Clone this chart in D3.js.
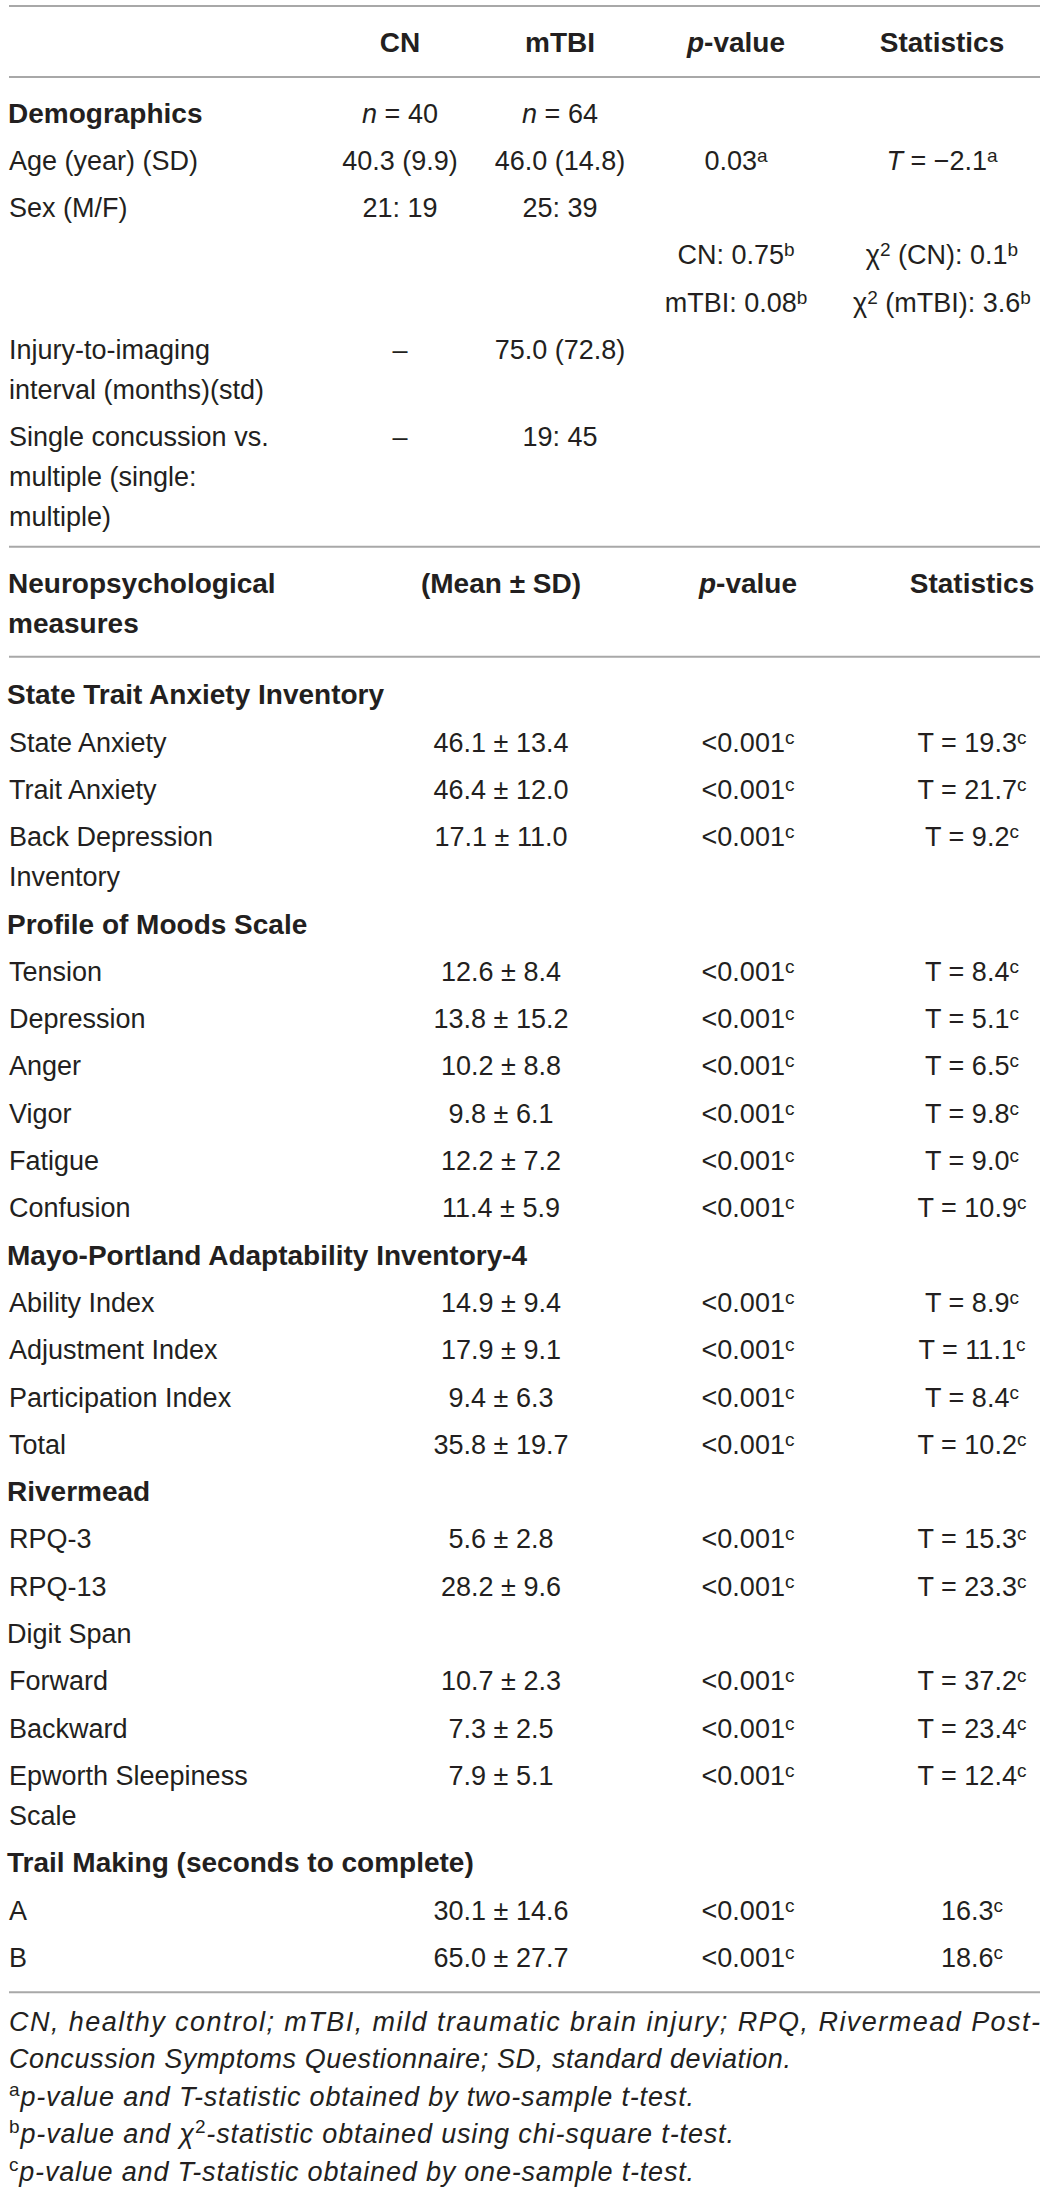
<!DOCTYPE html>
<html>
<head>
<meta charset="utf-8">
<script src="https://cdn.jsdelivr.net/npm/d3@7"></script>
<style>
  body { margin: 0; background: #fff; }
  svg { display: block; }
</style>
</head>
<body>
<div class="tbl"></div>
<script>
// ---- data ----
let headCols = ["CN", "mTBI", "<i>p</i>-value", "Statistics"]
let demoLabels = ["Age (year) (SD)", "Sex (M/F)", "", "", "Injury-to-imaging|interval (months)(std)", "Single concussion vs.|multiple (single:|multiple)"]
let demoCN = ["40.3 (9.9)", "21: 19", "", "", "–", "–"]
let demoMTBI = ["46.0 (14.8)", "25: 39", "", "", "75.0 (72.8)", "19: 45"]
let demoP = ["0.03^a", "", "CN: 0.75^b", "mTBI: 0.08^b", "", ""]
let demoStat = ["<i>T</i> = −2.1^a", "", "χ^2 (CN): 0.1^b", "χ^2 (mTBI): 3.6^b", "", ""]
let demoN = ["<i>n</i> = 40", "<i>n</i> = 64"]

let neuroCols = ["(Mean ± SD)", "<i>p</i>-value", "Statistics"]
let sections = ["State Trait Anxiety Inventory", "Profile of Moods Scale", "Mayo-Portland Adaptability Inventory-4", "Rivermead", "Digit Span", "Trail Making (seconds to complete)"]
let sectionBold = [true, true, true, true, false, true]
let measureSection = [0, 0, 0, 1, 1, 1, 1, 1, 1, 2, 2, 2, 2, 3, 3, 4, 4, 4, 5, 5]
let measureLabels = ["State Anxiety", "Trait Anxiety", "Back Depression|Inventory", "Tension", "Depression", "Anger", "Vigor", "Fatigue", "Confusion",
  "Ability Index", "Adjustment Index", "Participation Index", "Total", "RPQ-3", "RPQ-13", "Forward", "Backward", "Epworth Sleepiness|Scale", "A", "B"]
let measureMean = [46.1, 46.4, 17.1, 12.6, 13.8, 10.2, 9.8, 12.2, 11.4, 14.9, 17.9, 9.4, 35.8, 5.6, 28.2, 10.7, 7.3, 7.9, 30.1, 65.0]
let measureSD = [13.4, 12.0, 11.0, 8.4, 15.2, 8.8, 6.1, 7.2, 5.9, 9.4, 9.1, 6.3, 19.7, 2.8, 9.6, 2.3, 2.5, 5.1, 14.6, 27.7]
let measureT = [19.3, 21.7, 9.2, 8.4, 5.1, 6.5, 9.8, 9.0, 10.9, 8.9, 11.1, 8.4, 10.2, 15.3, 23.3, 37.2, 23.4, 12.4, 16.3, 18.6]
let measureHasT = [1, 1, 1, 1, 1, 1, 1, 1, 1, 1, 1, 1, 1, 1, 1, 1, 1, 1, 0, 0]
let measureP = "<0.001^c"

let footnotes = [
  "CN, healthy control; mTBI, mild traumatic brain injury; RPQ, Rivermead Post-",
  "Concussion Symptoms Questionnaire; SD, standard deviation.",
  "^a<i>p-value and T-statistic obtained by two-sample t-test.</i>",
  "^b<i>p-value and χ</i>^2<i>-statistic obtained using chi-square t-test.</i>",
  "^c<i>p-value and T-statistic obtained by one-sample t-test.</i>"
]

// ---- layout ----
let width = 1043, height = 2187
let left = 9, right = 1040
let fs = 27, fsBold = 28, fsFoot = 27, fsSup = 19
let pitch = 47.3, wrap = 40
let ink = "#231f20", rule = "#a8a8a8"
// run length of each footnote line, as set in the page
let footLen = [right - left, 782, 685, 725, 685]

let topX = d3.scaleOrdinal().domain(d3.range(4)).range([400, 560, 736, 942])
let botX = d3.scaleOrdinal().domain(d3.range(3)).range([501, 748, 972])
let fmt = d3.format(".1f")

let svg = d3.select(".tbl").append("svg")
  .attr("width", width)
  .attr("height", height)
  .attr("font-family", "'Liberation Sans', Arial, sans-serif")
  .attr("fill", ink)

// tiny markup: <i>..</i> italic, ^x superscript
function rich(g, str, x, y, opt) {
  opt = opt || {}
  let t = g.append("text")
    .attr("x", x)
    .attr("y", y)
    .attr("text-anchor", opt.anchor || "start")
    .attr("font-size", opt.size || fs)
    .attr("font-weight", opt.bold ? "bold" : "normal")
    .attr("font-style", opt.italic ? "italic" : "normal")
  let lift = opt.lift || 8
  let parts = str.split(/(<i>.*?<\/i>|\^.)/).filter((s) => s !== "")
  let raised = false
  parts.forEach((p) => {
    let ts = t.append("tspan")
    if (p[0] === "^") {
      ts.text(p.slice(1)).attr("font-size", fsSup).attr("font-style", "normal").attr("font-weight", "normal")
      if (!raised) ts.attr("dy", -lift)
      raised = true
    } else {
      let it = p.startsWith("<i>")
      ts.text(it ? p.slice(3, -4) : p)
      if (it) ts.attr("font-style", "italic")
      if (raised) ts.attr("dy", lift)
      raised = false
    }
  })
  return t
}

function hline(y) {
  svg.append("line")
    .attr("x1", left).attr("x2", right)
    .attr("y1", y).attr("y2", y)
    .attr("stroke", rule)
    .attr("stroke-width", 2)
}

let base = (c) => c + 9.5

// header
hline(6)
headCols.forEach((h, i) => rich(svg, h, topX(i), base(42), { anchor: "middle", bold: true, size: fsBold }))
hline(77)

// demographics
let gDemo = svg.append("g")
let y = 113
rich(gDemo, "Demographics", left - 1, base(y), { bold: true, size: fsBold })
demoN.forEach((s, i) => rich(gDemo, s, topX(i), base(y), { anchor: "middle" }))
demoLabels.forEach((lab, r) => {
  y += pitch
  let lines = lab.split("|")
  lines.forEach((l, k) => rich(gDemo, l, left, base(y + k * wrap)))
  rich(gDemo, demoCN[r], topX(0), base(y), { anchor: "middle" })
  rich(gDemo, demoMTBI[r], topX(1), base(y), { anchor: "middle" })
  rich(gDemo, demoP[r], topX(2), base(y), { anchor: "middle" })
  rich(gDemo, demoStat[r], topX(3), base(y), { anchor: "middle" })
  y += (lines.length - 1) * wrap
})

// neuro header
let ruleY = y + 30
hline(ruleY)
let hy = ruleY + 37
rich(svg, "Neuropsychological", left - 1, base(hy), { bold: true, size: fsBold })
rich(svg, "measures", left - 1, base(hy + wrap), { bold: true, size: fsBold })
neuroCols.forEach((h, i) => rich(svg, h, botX(i), base(hy), { anchor: "middle", bold: true, size: fsBold }))
ruleY = hy + wrap + 33
hline(ruleY)

// neuro body
let gNeuro = svg.append("g")
y = ruleY + 38 - pitch
let lastSec = -1
measureLabels.forEach((lab, r) => {
  let s = measureSection[r]
  if (s !== lastSec) {
    y += pitch
    if (sectionBold[s]) rich(gNeuro, sections[s], left - 2, base(y), { bold: true, size: fsBold })
    else rich(gNeuro, sections[s], left - 2, base(y))
    lastSec = s
  }
  y += pitch
  let lines = lab.split("|")
  lines.forEach((l, k) => rich(gNeuro, l, left, base(y + k * wrap)))
  rich(gNeuro, fmt(measureMean[r]) + " ± " + fmt(measureSD[r]), botX(0), base(y), { anchor: "middle" })
  rich(gNeuro, measureP, botX(1), base(y), { anchor: "middle" })
  rich(gNeuro, (measureHasT[r] ? "T = " : "") + fmt(measureT[r]) + "^c", botX(2), base(y), { anchor: "middle" })
  y += (lines.length - 1) * wrap
})

ruleY = y + 35
hline(ruleY)

// footnotes
let gFoot = svg.append("g")
footnotes.forEach((f, i) => {
  rich(gFoot, f, left, base(ruleY + 29 + i * 37.5), { size: fsFoot, italic: i < 2, lift: 10 })
    .attr("textLength", footLen[i])
    .attr("lengthAdjust", "spacing")
})
</script>
</body>
</html>
